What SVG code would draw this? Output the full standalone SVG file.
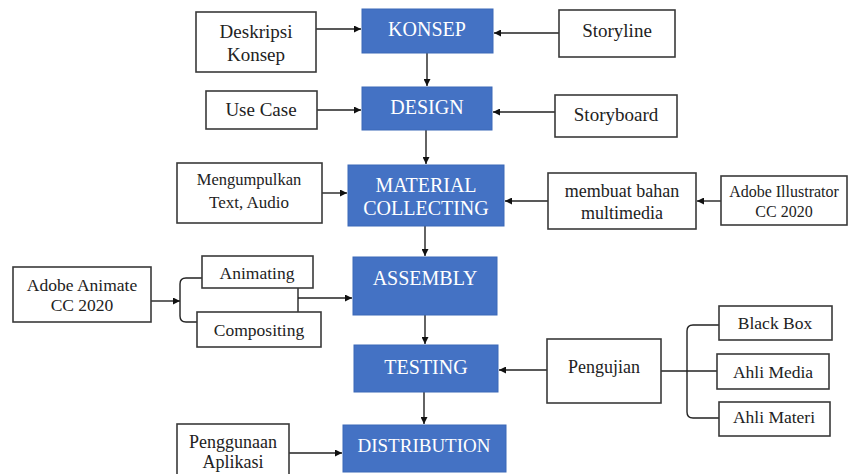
<svg xmlns="http://www.w3.org/2000/svg" width="849" height="474" viewBox="0 0 849 474" font-family="Liberation Serif">
<style>
.box{fill:#fff;stroke:#3a3a3a;stroke-width:1.6}
.blue{fill:#4472C4;stroke:#3b68b8;stroke-width:1}
.t{font-size:18px;fill:#222;text-anchor:middle}
.s{font-size:16px}
.w{font-size:20px;fill:#fff;text-anchor:middle}
.c{fill:none;stroke:#222;stroke-width:1.4}
</style>
<defs>
<marker id="ah" viewBox="0 0 10 10" refX="10" refY="5" markerWidth="7" markerHeight="7" markerUnits="userSpaceOnUse" orient="auto">
<path d="M0,0 L10,5 L0,10 z" fill="#111"/>
</marker>
</defs>
<rect width="849" height="474" fill="#fff"/>
<g id="connectors">
<path class="c" d="M316,29 H361" marker-end="url(#ah)"/>
<path class="c" d="M559,33 H494" marker-end="url(#ah)"/>
<path class="c" d="M427,53 V86" marker-end="url(#ah)"/>
<path class="c" d="M317,110 H361" marker-end="url(#ah)"/>
<path class="c" d="M555,112 H493" marker-end="url(#ah)"/>
<path class="c" d="M426,130 V164" marker-end="url(#ah)"/>
<path class="c" d="M322,193 H347" marker-end="url(#ah)"/>
<path class="c" d="M548,201 H505" marker-end="url(#ah)"/>
<path class="c" d="M721,201 H697" marker-end="url(#ah)"/>
<path class="c" d="M425,226 V256" marker-end="url(#ah)"/>
<path class="c" d="M151,301 H180" marker-end="url(#ah)"/>
<path class="c" d="M202,278 H186 Q180,278 180,284 V316 Q180,322 186,322 H197"/>
<path class="c" d="M298,288 V312"/>
<path class="c" d="M298,298 H352" marker-end="url(#ah)"/>
<path class="c" d="M425,315 V344" marker-end="url(#ah)"/>
<path class="c" d="M424,392 V424" marker-end="url(#ah)"/>
<path class="c" d="M547,370 H499" marker-end="url(#ah)"/>
<path class="c" d="M661,371 H717"/>
<path class="c" d="M719,325 H693 Q687,325 687,331 V412 Q687,418 693,418 H719"/>
<path class="c" d="M289,453 H342" marker-end="url(#ah)"/>
</g>
<g id="konsep"><rect class="blue" x="362" y="9" width="131" height="44"/><text class="w" x="427" y="36">KONSEP</text></g>
<g id="deskripsi"><rect class="box" x="196" y="12" width="120" height="60"/><text class="t" x="256" y="38" style="font-size:19px">Deskripsi</text><text class="t" x="256" y="61" style="font-size:19px">Konsep</text></g>
<g id="storyline"><rect class="box" x="559" y="10" width="116" height="47"/><text class="t" x="617" y="37" style="font-size:19px">Storyline</text></g>
<g id="design"><rect class="blue" x="362" y="87" width="130" height="43"/><text class="w" x="427" y="114">DESIGN</text></g>
<g id="usecase"><rect class="box" x="206" y="91" width="111" height="38"/><text class="t" x="261" y="116" style="font-size:19px">Use Case</text></g>
<g id="storyboard"><rect class="box" x="555" y="95" width="122" height="42"/><text class="t" x="616" y="121" style="font-size:19px">Storyboard</text></g>
<g id="material"><rect class="blue" x="348" y="165" width="156" height="61"/><text class="w" x="426" y="192">MATERIAL</text><text class="w" x="426" y="215">COLLECTING</text></g>
<g id="mengumpulkan"><rect class="box" x="177" y="163" width="145" height="60"/><text class="t" x="249" y="185" style="font-size:16.5px">Mengumpulkan</text><text class="t" x="249" y="208" style="font-size:17px">Text, Audio</text></g>
<g id="membuat"><rect class="box" x="548" y="173" width="148" height="56"/><text class="t" x="622" y="197">membuat bahan</text><text class="t" x="622" y="219">multimedia</text></g>
<g id="illustrator"><rect class="box" x="721" y="176" width="126" height="49"/><text class="t s" x="784" y="197">Adobe Illustrator</text><text class="t s" x="784" y="217">CC 2020</text></g>
<g id="assembly"><rect class="blue" x="353" y="257" width="144" height="58"/><text class="w" x="425" y="285">ASSEMBLY</text></g>
<g id="animate"><rect class="box" x="13" y="267" width="138" height="55"/><text class="t" x="82" y="291" style="font-size:17.5px">Adobe Animate</text><text class="t" x="82" y="311" style="font-size:17.5px">CC 2020</text></g>
<g id="animating"><rect class="box" x="202" y="256" width="111" height="32"/><text class="t" x="257" y="279" style="font-size:17.5px">Animating</text></g>
<g id="compositing"><rect class="box" x="197" y="312" width="124" height="35"/><text class="t" x="259" y="336" style="font-size:17.5px">Compositing</text></g>
<g id="testing"><rect class="blue" x="354" y="345" width="144" height="47"/><text class="w" x="426" y="374">TESTING</text></g>
<g id="pengujian"><rect class="box" x="547" y="339" width="114" height="64"/><text class="t" x="604" y="373">Pengujian</text></g>
<g id="blackbox"><rect class="box" x="719" y="306" width="113" height="34"/><text class="t" x="775" y="329" style="font-size:17.5px">Black Box</text></g>
<g id="ahlimedia"><rect class="box" x="717" y="354" width="112" height="35"/><text class="t" x="773" y="378" style="font-size:17.5px">Ahli Media</text></g>
<g id="ahlimateri"><rect class="box" x="719" y="402" width="111" height="34"/><text class="t" x="774" y="423" style="font-size:17.5px">Ahli Materi</text></g>
<g id="distribution"><rect class="blue" x="343" y="425" width="163" height="47"/><text class="w" x="424" y="452" style="font-size:19px">DISTRIBUTION</text></g>
<g id="penggunaan"><rect class="box" x="177" y="424" width="112" height="60"/><text class="t" x="233" y="448">Penggunaan</text><text class="t" x="233" y="468">Aplikasi</text></g>
</svg>
